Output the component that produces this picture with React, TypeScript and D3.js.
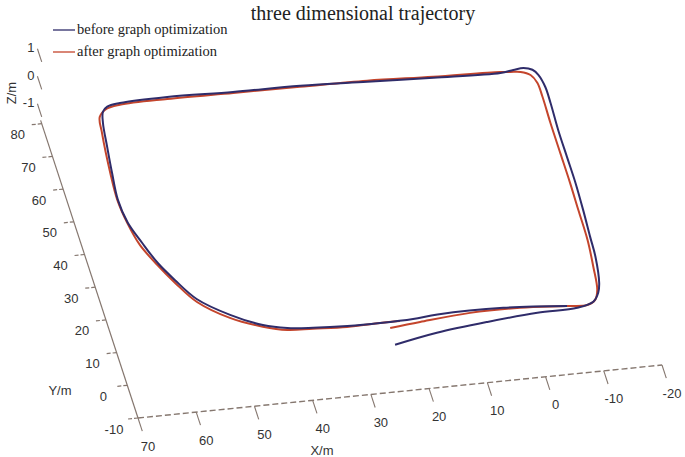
import React, { Component } from "react";
import * as d3 from "d3";

// trajectory before / after graph optimization (metres)
const beforeX = [24.1, 16.5, 7.5, -1.3, -8.2, -11.2, -12.5, -13.2, -14.0, -14.2, -14.5, -14.7, -14.7, -14.7, -14.9, -14.9, -14.4, -13.7, -12.3, -10.5, -8.2, 3.2, 14.4, 25.8, 37.3, 48.5, 56.7, 59.0, 60.0, 60.6, 61.2, 61.8, 62.3, 61.9, 60.6, 59.1, 57.2, 54.6, 49.9, 45.0, 41.1, 36.8, 31.0, 25.4, 19.7, 15.4, 4.1, -6.6];
const beforeY = [-0.5, 1.8, 3.5, 4.7, 5.0, 6.3, 8.8, 11.7, 19.5, 25.6, 33.8, 42.0, 49.9, 58.2, 66.4, 71.3, 75.1, 76.8, 77.6, 77.3, 76.8, 77.4, 78.2, 79.0, 79.2, 79.7, 79.3, 78.6, 77.2, 73.9, 66.7, 58.9, 50.7, 43.6, 37.2, 30.8, 25.3, 19.0, 13.3, 9.3, 7.7, 7.0, 6.5, 6.4, 6.6, 7.2, 7.2, 5.8];
const afterX = [24.0, 18.7, 9.9, 1.3, -6.6, -10.0, -11.6, -12.5, -13.1, -13.6, -13.7, -13.8, -13.8, -13.8, -13.9, -13.8, -13.1, -11.6, -9.9, -8.2, 3.2, 14.4, 25.9, 37.3, 48.6, 56.8, 59.2, 60.8, 61.3, 62.1, 62.4, 62.0, 61.1, 59.3, 57.3, 54.7, 50.1, 45.1, 41.2, 36.9, 31.1, 25.4, 22.0];
const afterY = [4.6, 5.5, 6.7, 6.7, 5.8, 5.5, 6.8, 9.7, 16.6, 24.8, 33.9, 42.2, 51.3, 60.5, 68.5, 72.8, 75.3, 76.5, 76.8, 77.1, 77.7, 78.5, 78.7, 78.9, 79.1, 78.8, 78.0, 75.8, 71.0, 58.9, 50.7, 43.6, 36.7, 30.3, 24.4, 18.1, 12.4, 8.8, 7.1, 6.7, 6.2, 6.4, 6.4];
const trajZ = -0.7;

const xTicks = [70, 60, 50, 40, 30, 20, 10, 0, -10, -20];
const yTicks = [-10, 0, 10, 20, 30, 40, 50, 60, 70, 80];
const zTicks = [-1, 0, 1];

const series = [
	{ name: "after graph optimization", xs: afterX, ys: afterY, color: "#c4452c" },
	{ name: "before graph optimization", xs: beforeX, ys: beforeY, color: "#2f2c6a" },
];

class App extends Component {
	componentDidMount() {
		const svg = d3.select("#traj");
		const axisColor = "#85776f";
		const labelColor = "#333";
		const sans = "Liberation Sans, Arial, sans-serif";
		const serif = "Liberation Serif, Times New Roman, serif";

		// oblique 3d projection built from linear scales
		const origin = [138, 418];
		const xdx = d3.scaleLinear().domain([70, -20]).range([0, 524]);
		const xdy = d3.scaleLinear().domain([70, -20]).range([0, -53]);
		const ydx = d3.scaleLinear().domain([-10, 80]).range([0, -96.3]);
		const ydy = d3.scaleLinear().domain([-10, 80]).range([0, -294.3]);
		const zdy = d3.scaleLinear().domain([-1.25, 1]).range([0, -61.9]);
		const proj = (x: number, y: number, z: number) => [
			origin[0] + xdx(x) + ydx(y),
			origin[1] + xdy(x) + ydy(y) + zdy(z),
		];
		const zmin = -1.25;

		const g = svg.append("g");

		// X axis (dashed) at Y=-10
		const xa = proj(70, -10, zmin);
		const xb = proj(-20, -10, zmin);
		g.append("line")
			.attr("x1", xa[0]).attr("y1", xa[1])
			.attr("x2", xb[0]).attr("y2", xb[1])
			.attr("stroke", axisColor)
			.attr("stroke-width", 1.4)
			.attr("stroke-dasharray", "6,3");
		xTicks.forEach((t) => {
			const p = proj(t, -10, zmin);
			const q = proj(t, -14, zmin);
			g.append("line")
				.attr("x1", p[0]).attr("y1", p[1])
				.attr("x2", q[0]).attr("y2", q[1])
				.attr("stroke", axisColor)
				.attr("stroke-width", 1.1);
			g.append("text")
				.attr("x", p[0] + 10).attr("y", p[1] + 28)
				.attr("text-anchor", "middle")
				.attr("dominant-baseline", "central")
				.attr("font-family", sans)
				.attr("font-size", 13)
				.attr("fill", labelColor)
				.text(t);
		});

		// Y axis (solid) at X=70
		const ya = proj(70, -10, zmin);
		const yb = proj(70, 81, zmin);
		g.append("line")
			.attr("x1", ya[0]).attr("y1", ya[1])
			.attr("x2", yb[0]).attr("y2", yb[1])
			.attr("stroke", axisColor)
			.attr("stroke-width", 1.2);
		yTicks.forEach((t) => {
			const p = proj(70, t, zmin);
			const q = proj(72, t, zmin);
			g.append("line")
				.attr("x1", p[0]).attr("y1", p[1])
				.attr("x2", q[0]).attr("y2", q[1])
				.attr("stroke", axisColor)
				.attr("stroke-width", 1.2)
				.attr("stroke-dasharray", "4,2");
			g.append("text")
				.attr("x", p[0] - 24).attr("y", p[1] + 11)
				.attr("text-anchor", "middle")
				.attr("dominant-baseline", "central")
				.attr("font-family", sans)
				.attr("font-size", 13)
				.attr("fill", labelColor)
				.text(t);
		});

		// Z ticks at X=70, Y=80
		zTicks.forEach((t) => {
			const p = proj(70, 80, t);
			const q = proj(70, 84, t);
			g.append("line")
				.attr("x1", p[0]).attr("y1", p[1])
				.attr("x2", q[0]).attr("y2", q[1])
				.attr("stroke", axisColor)
				.attr("stroke-width", 1.1);
			g.append("text")
				.attr("x", q[0] - 3).attr("y", q[1] - 1)
				.attr("text-anchor", "end")
				.attr("dominant-baseline", "central")
				.attr("font-family", sans)
				.attr("font-size", 13)
				.attr("fill", labelColor)
				.text(t);
		});

		// axis titles
		g.append("text").attr("x", 322).attr("y", 450).attr("text-anchor", "middle")
			.attr("dominant-baseline", "central").attr("font-family", sans).attr("font-size", 13)
			.attr("fill", labelColor).text("X/m");
		g.append("text").attr("x", 60).attr("y", 390).attr("text-anchor", "middle")
			.attr("dominant-baseline", "central").attr("font-family", sans).attr("font-size", 13)
			.attr("fill", labelColor).text("Y/m");
		g.append("text").attr("transform", "translate(11,93) rotate(-90)").attr("text-anchor", "middle")
			.attr("dominant-baseline", "central").attr("font-family", sans).attr("font-size", 13)
			.attr("fill", labelColor).text("Z/m");

		// trajectories
		const line = d3.line<number[]>()
			.x((d) => d[0])
			.y((d) => d[1])
			.curve(d3.curveCatmullRom.alpha(0.5));
		series.forEach((s) => {
			const pts = s.xs.map((x, i) => proj(x, s.ys[i], trajZ));
			g.append("path")
				.attr("d", line(pts))
				.attr("fill", "none")
				.attr("stroke", s.color)
				.attr("stroke-width", 2)
				.attr("stroke-linejoin", "round");
		});

		// title
		svg.append("text")
			.attr("x", 363).attr("y", 20)
			.attr("text-anchor", "middle")
			.attr("font-family", serif)
			.attr("font-size", 20)
			.attr("fill", "#222")
			.text("three dimensional trajectory");

		// legend
		const legend = [series[1], series[0]];
		legend.forEach((s, i) => {
			const y = 30 + i * 22;
			svg.append("line")
				.attr("x1", 53).attr("y1", y).attr("x2", 75).attr("y2", y)
				.attr("stroke", s.color)
				.attr("stroke-width", 1.3);
			svg.append("text")
				.attr("x", 77).attr("y", y + 4)
				.attr("font-family", serif)
				.attr("font-size", 14.5)
				.attr("fill", "#222")
				.text(s.name);
		});
	}

	render() {
		return (
			<svg
				id="traj"
				width={685}
				height={457}
				style={{ position: "absolute", left: 0, top: 0, background: "#fff" }}
			></svg>
		);
	}
}

export default App;
